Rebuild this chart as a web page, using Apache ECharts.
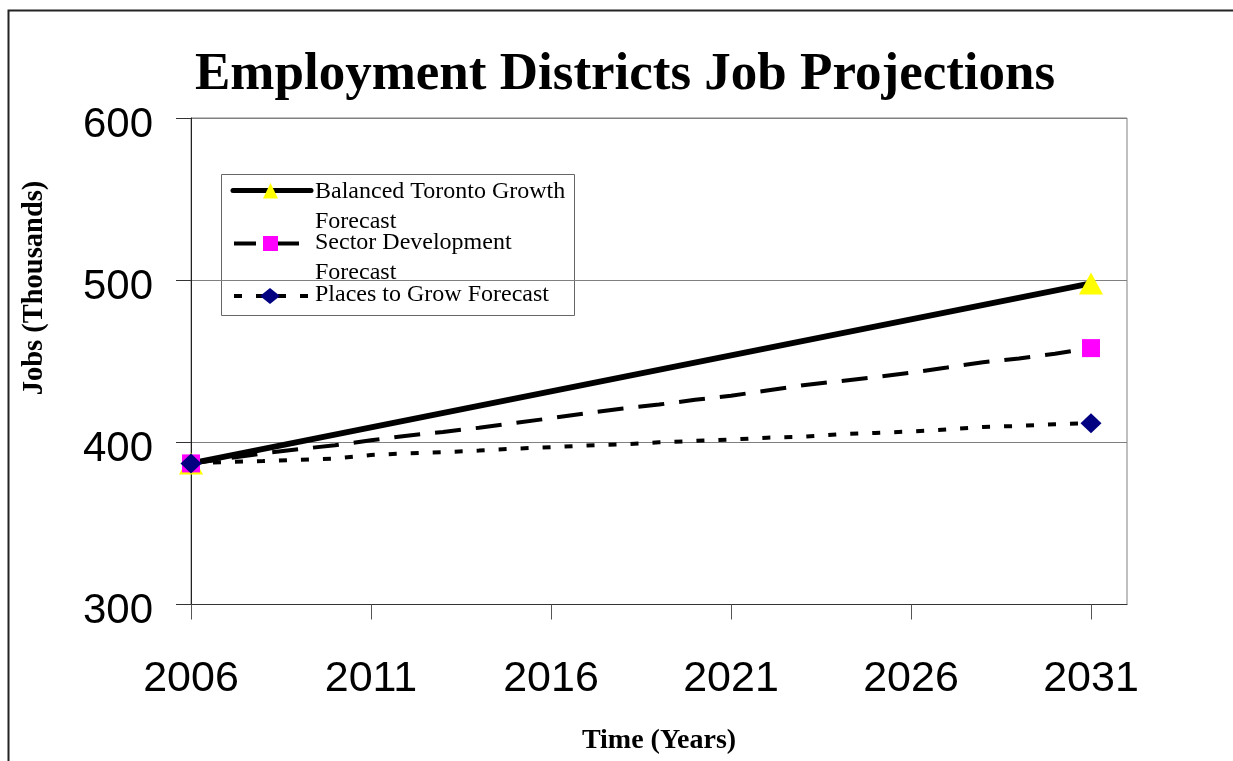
<!DOCTYPE html>
<html>
<head>
<meta charset="utf-8">
<title>Employment Districts Job Projections</title>
<script src="https://cdn.jsdelivr.net/npm/echarts@6/dist/echarts.min.js"></script>
<style>
  html, body { margin: 0; padding: 0; background: #ffffff; }
  #chart { width: 1233px; height: 761px; }
</style>
</head>
<body>
<div id="chart"></div>
<script>
// Series names
const seriesNames = [
  'Balanced Toronto Growth Forecast',
  'Sector Development Forecast',
  'Places to Grow Forecast'
];

// Years shown on the time axis
const xTickYears = [2006, 2011, 2016, 2021, 2026, 2031];

// Balanced Toronto Growth Forecast (thousands of jobs)
const balancedYears = [2006, 2031];
const balancedJobs = [387, 498];

// Yearly projections 2006-2031 (thousands of jobs)
const projectionYears = [2006, 2007, 2008, 2009, 2010, 2011, 2012, 2013, 2014, 2015, 2016, 2017, 2018,
  2019, 2020, 2021, 2022, 2023, 2024, 2025, 2026, 2027, 2028, 2029, 2030, 2031];
const sectorJobs = [387.0, 390.0, 393.2, 395.8, 398.2, 401.3, 404.1, 406.4, 409.0, 411.9, 414.9, 418.0, 420.9,
  423.3, 426.2, 428.7, 432.0, 435.2, 437.7, 440.2, 443.0, 446.1, 449.4, 451.7, 454.6, 458.1];
const placesJobs = [387.0, 387.9, 388.5, 389.2, 390.0, 392.2, 393.2, 393.9, 394.9, 396.1, 397.0, 398.1, 398.7,
  400.0, 400.9, 401.7, 402.9, 403.5, 405.0, 405.8, 406.7, 407.9, 409.5, 410.1, 411.2, 411.8];

const pairs = (xs, ys) => xs.map((x, i) => [x, ys[i]]);
// markers only at the first and last point of each series
const endSymbols = (size) => (value, params) => {
  const n = params.seriesIndex === 0 ? balancedYears.length : projectionYears.length;
  return (params.dataIndex === 0 || params.dataIndex === n - 1) ? size : 0;
};

const serif = '"Liberation Serif", "Times New Roman", Times, serif';
const sans = '"Liberation Sans", Arial, Helvetica, sans-serif';

const chart = echarts.init(document.getElementById('chart'), null, { renderer: 'canvas' });

// legend drawn as a boxed key in the upper-left of the plot
const legendGraphic = {
  type: 'group',
  z: 100,
  children: [
    { type: 'rect', shape: { x: 221.5, y: 174.5, width: 353, height: 141 },
      style: { fill: '#ffffff', stroke: '#666666', lineWidth: 1 } },
    // row 1
    { type: 'line', shape: { x1: 233, y1: 190.5, x2: 311, y2: 190.5 },
      style: { stroke: '#000000', lineWidth: 5, lineCap: 'round' } },
    { type: 'polygon', shape: { points: [[270.5, 183], [278, 198.5], [263, 198.5]] },
      style: { fill: '#ffff00' } },
    { type: 'text', style: { x: 315, y: 191.5, text: 'Balanced Toronto Growth', font: '24px ' + serif,
      fill: '#000000', textVerticalAlign: 'middle' } },
    { type: 'text', style: { x: 315, y: 221.5, text: 'Forecast', font: '24px ' + serif,
      fill: '#000000', textVerticalAlign: 'middle' } },
    // row 2
    { type: 'line', shape: { x1: 234, y1: 243.5, x2: 299, y2: 243.5 },
      style: { stroke: '#000000', lineWidth: 4, lineDash: [22, 21] } },
    { type: 'rect', shape: { x: 263, y: 236, width: 15, height: 15 },
      style: { fill: '#ff00ff' } },
    { type: 'text', style: { x: 315, y: 242.5, text: 'Sector Development', font: '24px ' + serif,
      fill: '#000000', textVerticalAlign: 'middle' } },
    { type: 'text', style: { x: 315, y: 273, text: 'Forecast', font: '24px ' + serif,
      fill: '#000000', textVerticalAlign: 'middle' } },
    // row 3
    { type: 'line', shape: { x1: 234, y1: 296, x2: 308, y2: 296 },
      style: { stroke: '#000000', lineWidth: 4, lineDash: [8, 14] } },
    { type: 'polygon', shape: { points: [[270, 288], [280, 296], [270, 304], [260, 296]] },
      style: { fill: '#000080' } },
    { type: 'text', style: { x: 315, y: 295, text: 'Places to Grow Forecast', font: '24px ' + serif,
      fill: '#000000', textVerticalAlign: 'middle' } }
  ]
};

const option = {
  animation: false,
  backgroundColor: '#ffffff',
  title: {
    text: 'Employment Districts Job Projections',
    left: 190,
    top: 44,
    textStyle: { fontFamily: serif, fontWeight: 'bold', fontSize: 53, color: '#000000' }
  },
  grid: {
    left: 191, top: 118, right: 106, bottom: 156.5,
    show: true, borderColor: '#808080', borderWidth: 1, backgroundColor: '#ffffff'
  },
  xAxis: {
    type: 'value',
    min: 2006, max: 2032, interval: 5,
    name: 'Time (Years)',
    nameLocation: 'middle',
    nameGap: 122,
    nameTextStyle: { fontFamily: serif, fontWeight: 'bold', fontSize: 28, color: '#000000' },
    axisLine: { show: true, onZero: false, lineStyle: { color: '#333333', width: 1 } },
    axisTick: { show: true, length: 15, customValues: xTickYears, lineStyle: { color: '#555555' } },
    axisLabel: {
      customValues: xTickYears,
      margin: 53,
      fontFamily: sans, fontSize: 43, color: '#000000',
      formatter: (v) => xTickYears.includes(v) ? String(v) : ''
    },
    splitLine: { show: false }
  },
  yAxis: {
    type: 'value',
    min: 300, max: 600, interval: 100,
    axisLine: { show: true, lineStyle: { color: '#222222', width: 1 } },
    axisTick: { show: true, length: 15, lineStyle: { color: '#333333' } },
    axisLabel: {
      margin: 38,
      formatter: '{v|{value}}',
      rich: {
        v: { fontFamily: sans, fontSize: 42, color: '#000000', lineHeight: 56, verticalAlign: 'bottom' }
      }
    },
    splitLine: { show: true, lineStyle: { color: '#808080', width: 1 } }
  },
  graphic: [
    { type: 'rect', silent: true, z: -10,
      shape: { x: 8.5, y: 10.5, width: 1400, height: 900 },
      style: { fill: 'none', stroke: '#222222', lineWidth: 2 } },
    { type: 'text', silent: true, x: 35, y: 288, rotation: Math.PI / 2,
      style: { text: 'Jobs (Thousands)', font: 'bold 28.5px ' + serif, fill: '#000000',
        textAlign: 'center', textVerticalAlign: 'middle' } },
    legendGraphic
  ],
  series: [
    {
      name: seriesNames[0],
      type: 'line',
      data: pairs(balancedYears, balancedJobs),
      showAllSymbol: true,
      symbol: 'triangle',
      symbolSize: endSymbols([24, 22]),
      itemStyle: { color: '#ffff00' },
      lineStyle: { color: '#000000', width: 6, type: 'solid' },
      z: 2
    },
    {
      name: seriesNames[1],
      type: 'line',
      data: pairs(projectionYears, sectorJobs),
      showAllSymbol: true,
      symbol: 'rect',
      symbolSize: endSymbols(18),
      itemStyle: { color: '#ff00ff' },
      lineStyle: { color: '#000000', width: 4, type: [26, 15] },
      z: 3
    },
    {
      name: seriesNames[2],
      type: 'line',
      data: pairs(projectionYears, placesJobs),
      showAllSymbol: true,
      symbol: 'diamond',
      symbolSize: endSymbols([21, 20]),
      itemStyle: { color: '#000080' },
      lineStyle: { color: '#000000', width: 4, type: [8, 14] },
      z: 4
    }
  ]
};

chart.setOption(option);
</script>
</body>
</html>
